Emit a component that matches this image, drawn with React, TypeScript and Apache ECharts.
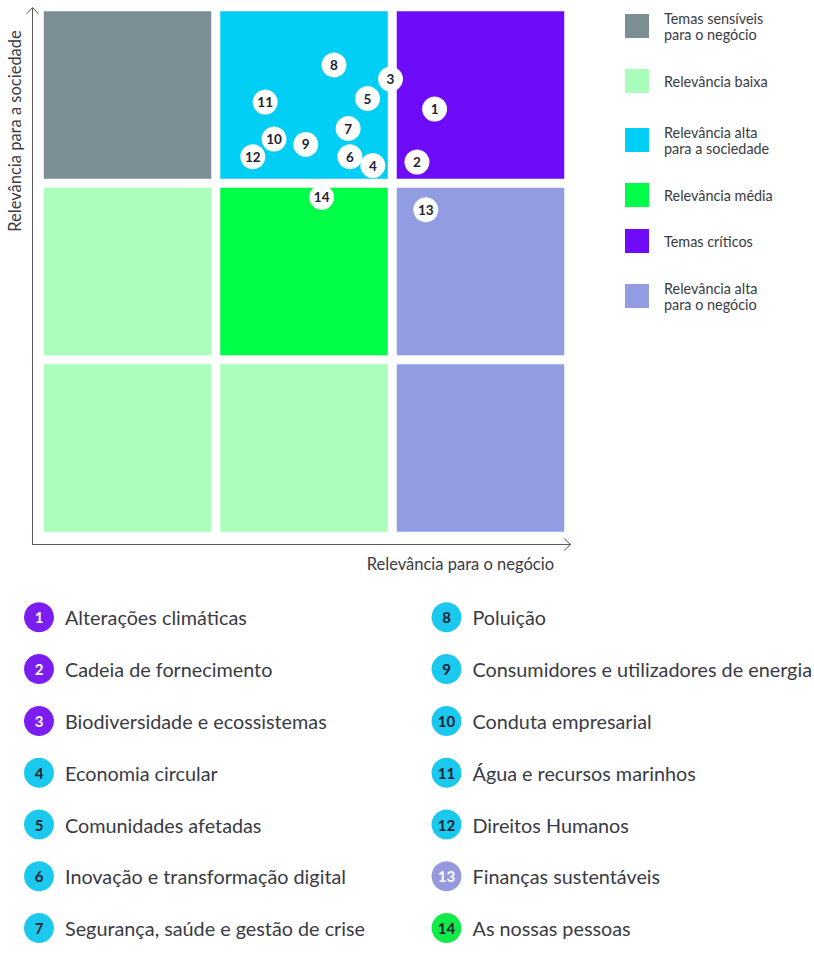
import React, { useEffect, useRef } from "react";
import * as echarts from "echarts";

// Categories (matrix zones) and their colours
const categoryLabels = [
  "Temas sensíveis\npara o negócio",
  "Relevância baixa",
  "Relevância alta\npara a sociedade",
  "Relevância média",
  "Temas críticos",
  "Relevância alta\npara o negócio",
];
const categoryColors = ["#7B8E94", "#A9FEBB", "#00CEF4", "#00FD47", "#6E0CF9", "#929CE2"];
const badgeColors = ["#7B8E94", "#A9FEBB", "#1BC8EE", "#12EA4A", "#7A1DEE", "#9599DE"];
const badgeTextColors = ["#ffffff", "#1d2433", "#1d2433", "#1d2433", "#ffffff", "#ffffff"];

// 3x3 matrix cells: column (business), row (society), category index
const cellCols = [0, 1, 2, 0, 1, 2, 0, 1, 2];
const cellRows = [2, 2, 2, 1, 1, 1, 0, 0, 0];
const cellCategory = [0, 2, 4, 1, 3, 5, 1, 1, 5];

// Topics
const topicIds = [1, 2, 3, 4, 5, 6, 7, 8, 9, 10, 11, 12, 13, 14];
const topicNames = [
  "Alterações climáticas",
  "Cadeia de fornecimento",
  "Biodiversidade e ecossistemas",
  "Economia circular",
  "Comunidades afetadas",
  "Inovação e transformação digital",
  "Segurança, saúde e gestão de crise",
  "Poluição",
  "Consumidores e utilizadores de energia",
  "Conduta empresarial",
  "Água e recursos marinhos",
  "Direitos Humanos",
  "Finanças sustentáveis",
  "As nossas pessoas",
];
const topicBusiness = [2.24, 2.14, 1.99, 1.89, 1.86, 1.76, 1.75, 1.67, 1.51, 1.33, 1.28, 1.21, 2.19, 1.6];
const topicSociety = [2.42, 2.12, 2.59, 2.1, 2.48, 2.15, 2.31, 2.67, 2.22, 2.25, 2.46, 2.15, 1.85, 1.92];
const topicCategory = [4, 4, 4, 2, 2, 2, 2, 2, 2, 2, 2, 2, 5, 3];

const axisNameX = "Relevância para o negócio";
const axisNameY = "Relevância para a sociedade";

const FONT = "Lato, 'Noto Sans', sans-serif";

export default function App() {
  const ref = useRef<HTMLDivElement>(null);
  useEffect(() => {
    if (!ref.current) return;
    const chart = echarts.init(ref.current, undefined, { renderer: "svg" });

    const graphics: any[] = [];
    const axisColor = "#5a5a5a";
    // axes with open arrow heads
    graphics.push({
      type: "polyline",
      shape: { points: [[32.5, 544.5], [32.5, 8]] },
      style: { stroke: axisColor, lineWidth: 1, fill: "none" },
    });
    graphics.push({
      type: "polyline",
      shape: { points: [[26.5, 14], [32.5, 7.5], [38.5, 14]] },
      style: { stroke: axisColor, lineWidth: 1, fill: "none" },
    });
    graphics.push({
      type: "polyline",
      shape: { points: [[32, 544.5], [570.5, 544.5]] },
      style: { stroke: axisColor, lineWidth: 1, fill: "none" },
    });
    graphics.push({
      type: "polyline",
      shape: { points: [[564, 538.5], [570.5, 544.5], [564, 550.5]] },
      style: { stroke: axisColor, lineWidth: 1, fill: "none" },
    });
    graphics.push({
      type: "text",
      x: 554,
      y: 564,
      style: { text: axisNameX, font: `16.5px ${FONT}`, fill: "#3a3a44", align: "right", verticalAlign: "middle" },
    });
    graphics.push({
      type: "text",
      x: 15,
      y: 131,
      rotation: Math.PI / 2,
      style: { text: axisNameY, font: `16.5px ${FONT}`, fill: "#3a3a44", align: "center", verticalAlign: "middle" },
    });

    // legend
    const legendTops = [14, 69, 128, 183, 229, 284];
    categoryLabels.forEach((lab, i) => {
      graphics.push({
        type: "rect",
        shape: { x: 625, y: legendTops[i], width: 24, height: 24 },
        style: { fill: categoryColors[i] },
      });
      graphics.push({
        type: "text",
        x: 664,
        y: legendTops[i] + 12,
        style: {
          text: lab,
          font: `14.4px ${FONT}`,
          lineHeight: 16,
          fill: "#3a3a44",
          align: "left",
          verticalAlign: "middle",
        },
      });
    });

    // topic list
    topicNames.forEach((name, i) => {
      const col = i < 7 ? 0 : 1;
      const row = i % 7;
      const cx = col === 0 ? 39 : 446.5;
      const cy = 617.3 + row * 51.8;
      const cat = topicCategory[i];
      graphics.push({
        type: "circle",
        shape: { cx, cy, r: 15 },
        style: { fill: badgeColors[cat] },
      });
      graphics.push({
        type: "text",
        x: cx,
        y: cy,
        style: {
          text: String(topicIds[i]),
          font: `bold 15px ${FONT}`,
          fill: badgeTextColors[cat],
          align: "center",
          verticalAlign: "middle",
        },
      });
      graphics.push({
        type: "text",
        x: cx + 26,
        y: cy,
        style: { text: name, font: `19.8px ${FONT}`, fill: "#3a3a44", align: "left", verticalAlign: "middle" },
      });
    });

    const cellData = cellCols.map((c, i) => ({
      value: [c, cellRows[i]],
      itemStyle: { color: categoryColors[cellCategory[i]] },
    }));

    const pointData = topicIds.map((id, i) => ({ value: [topicBusiness[i], topicSociety[i]], name: String(id) }));

    chart.setOption({
      animation: false,
      grid: { left: 39.25, top: 6.75, width: 529.5, height: 529.5 },
      xAxis: { type: "value", min: 0, max: 3, show: false },
      yAxis: { type: "value", min: 0, max: 3, show: false },
      series: [
        {
          type: "custom",
          z: 1,
          data: cellData,
          renderItem: (params: any, api: any) => {
            const c = api.value(0);
            const r = api.value(1);
            const p0 = api.coord([c, r + 1]);
            const p1 = api.coord([c + 1, r]);
            const inset = 4.5;
            return {
              type: "rect",
              shape: {
                x: p0[0] + inset,
                y: p0[1] + inset,
                width: p1[0] - p0[0] - 2 * inset,
                height: p1[1] - p0[1] - 2 * inset,
              },
              style: { fill: api.visual("color") },
            };
          },
        },
        {
          type: "scatter",
          z: 5,
          symbol: "circle",
          symbolSize: 25,
          data: pointData,
          itemStyle: { color: "#ffffff", opacity: 1 },
          label: {
            show: true,
            position: "inside",
            formatter: (p: any) => p.name,
            color: "#23232f",
            fontFamily: FONT,
            fontWeight: "bold",
            fontSize: 13.5,
          },
        },
      ],
      graphic: graphics,
    });
    return () => chart.dispose();
  }, []);
  return (
    <div
      ref={ref}
      style={{ position: "absolute", left: 0, top: 0, width: 814, height: 954, background: "#ffffff" }}
    />
  );
}
